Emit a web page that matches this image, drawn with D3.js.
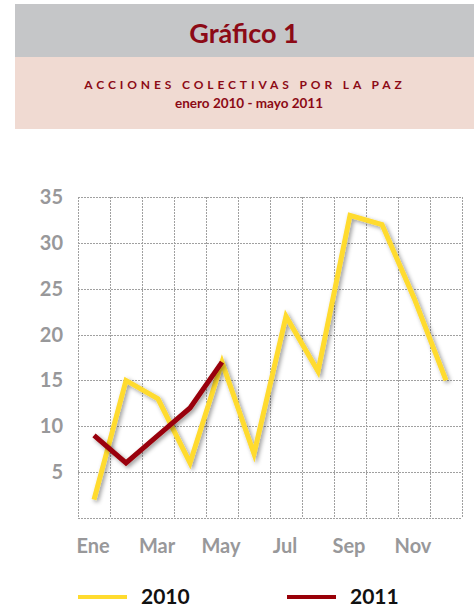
<!DOCTYPE html>
<html>
<head>
<meta charset="utf-8">
<script src="https://cdn.jsdelivr.net/npm/d3@7"></script>
<style>
  body { margin: 0; background: #fff; }
  text { font-family: Lato, "Open Sans", sans-serif; }
</style>
</head>
<body>
<div id="chart"></div>
<script>
const months = ["Ene", "Feb", "Mar", "Abr", "May", "Jun", "Jul", "Ago", "Sep", "Oct", "Nov", "Dic"];
const values2010 = [2, 15, 13, 6, 17, 7, 22, 16, 33, 32, 24, 15];
const values2011 = [9, 6, 9, 12, 17];
const yTicks = [5, 10, 15, 20, 25, 30, 35];
const shownMonths = ["Ene", "Mar", "May", "Jul", "Sep", "Nov"];

const W = 474, H = 612;
const margin = { top: 197, right: 12, bottom: 94, left: 78 },
      width = W - margin.left - margin.right,
      height = H - margin.top - margin.bottom;

const root = d3.select("#chart").append("svg")
    .attr("width", W)
    .attr("height", H);

// shadow for the lines
const defs = root.append("defs");
defs.append("filter")
    .attr("id", "shadow")
    .attr("x", "-20%").attr("y", "-20%")
    .attr("width", "140%").attr("height", "140%")
    .append("feDropShadow")
    .attr("dx", 2).attr("dy", 2)
    .attr("stdDeviation", 2)
    .attr("flood-color", "#000")
    .attr("flood-opacity", 0.4);

// header bands
root.append("rect").attr("x", 15).attr("y", 4).attr("width", W - 15).attr("height", 53).attr("fill", "#c5c6c8");
root.append("rect").attr("x", 15).attr("y", 57).attr("width", W - 15).attr("height", 72).attr("fill", "#f0dad2");

root.append("text")
    .attr("x", 244).attr("y", 43)
    .attr("text-anchor", "middle")
    .style("font-size", "27px").style("font-weight", "bold")
    .attr("fill", "#8c0a16")
    .text("Gráfico 1");

root.append("text")
    .attr("x", 245).attr("y", 89)
    .attr("text-anchor", "middle")
    .style("font-size", "12px").style("font-weight", "bold")
    .style("letter-spacing", "3.9px")
    .attr("fill", "#8c0a16")
    .text("ACCIONES COLECTIVAS POR LA PAZ");

root.append("text")
    .attr("x", 249).attr("y", 108)
    .attr("text-anchor", "middle")
    .style("font-size", "13.5px").style("font-weight", "bold")
    .attr("fill", "#8c0a16")
    .text("enero 2010 - mayo 2011");

const svg = root.append("g")
    .attr("transform", `translate(${margin.left},${margin.top})`);

const x = d3.scaleBand().domain(months).range([0, width]);
const y = d3.scaleLinear().domain([0, 35]).range([height, 0]);

// grid
const gridStyle = g => g.attr("stroke", "#a0a0a0").attr("stroke-width", 1).attr("stroke-dasharray", "2,1");
svg.append("g").selectAll("line")
    .data([0].concat(yTicks))
    .join("line")
    .attr("x1", 0).attr("x2", width)
    .attr("y1", d => Math.round(y(d)) + 0.5).attr("y2", d => Math.round(y(d)) + 0.5)
    .call(gridStyle);
svg.append("g").selectAll("line")
    .data(months.map(m => x(m)).concat([width]))
    .join("line")
    .attr("x1", d => Math.round(d) + 0.5).attr("x2", d => Math.round(d) + 0.5)
    .attr("y1", 0).attr("y2", height)
    .call(gridStyle);

// y axis labels
svg.append("g").selectAll("text")
    .data(yTicks)
    .join("text")
    .attr("x", -15)
    .attr("y", d => y(d))
    .attr("dy", "0.35em")
    .attr("text-anchor", "end")
    .style("font-size", "20px").style("font-weight", "bold")
    .attr("fill", "#98989a")
    .text(d => d);

// x axis labels
svg.append("g").selectAll("text")
    .data(shownMonths)
    .join("text")
    .attr("x", d => x(d) + x.bandwidth() / 2 - 1)
    .attr("y", height + 35)
    .attr("text-anchor", "middle")
    .style("font-size", "20px").style("font-weight", "bold")
    .attr("fill", "#98989a")
    .text(d => d);

const line = d3.line()
    .x((d, i) => x(months[i]) + x.bandwidth() / 2)
    .y(d => y(d));

svg.append("path")
    .datum(values2010)
    .attr("fill", "none")
    .attr("stroke", "#ffdb2e")
    .attr("stroke-width", 5)
    .attr("stroke-linejoin", "miter")
    .attr("filter", "url(#shadow)")
    .attr("d", line);

svg.append("path")
    .datum(values2011)
    .attr("fill", "none")
    .attr("stroke", "#990008")
    .attr("stroke-width", 5)
    .attr("stroke-linejoin", "miter")
    .attr("filter", "url(#shadow)")
    .attr("d", line);

// legend
const items = [
    { color: "#ffdb2e", text: "2010", x: 78 },
    { color: "#990008", text: "2011", x: 287 }
];
items.forEach(d => {
    const g = root.append("g").attr("transform", `translate(${d.x}, 597)`);
    g.append("line").attr("x1", 0).attr("x2", 49).attr("y1", 0).attr("y2", 0)
        .attr("stroke", d.color).attr("stroke-width", 4);
    g.append("text").attr("x", 63).attr("y", 7)
        .style("font-size", "21px").style("font-weight", "bold")
        .attr("fill", "#111")
        .text(d.text);
});
</script>
</body>
</html>
